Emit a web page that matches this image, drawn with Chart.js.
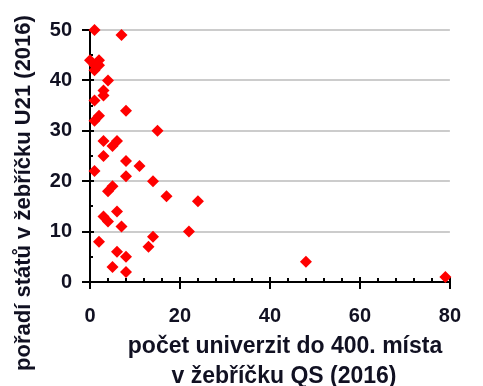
<!DOCTYPE html>
<html>
<head>
    <title>U21 vs QS</title>
    <script src="https://cdn.jsdelivr.net/npm/chart.js"></script>
</head>
<body style="margin:0; background-color:white;">
    <div style="width:483px; height:386px;">
        <canvas id="scatterChart" width="483" height="386"></canvas>
    </div>

    <script>
        // počet univerzit v top 400 QS (x) a pořadí v U21 (y)
        const qsCount = [1, 7, 0, 2, 1, 2, 1, 4, 3, 3, 1, 8, 2, 1, 15, 3, 6, 5, 3, 8, 11, 1, 8,
                         14, 5, 4, 17, 24, 6, 3, 4, 7, 22, 14, 13, 2, 6, 8, 48, 5, 8, 79];
        const u21Rank = [50, 49, 44, 44, 43, 43, 42, 40, 38, 37, 36, 34, 33, 32, 30, 28, 28, 27, 25, 24, 23, 22, 21,
                         20, 19, 18, 17, 16, 14, 13, 12, 11, 10, 9, 7, 8, 6, 5, 4, 3, 2, 1];
        const xTicks = [0, 20, 40, 60, 80];
        const yTicks = [0, 10, 20, 30, 40, 50];

        const FONT = "'Liberation Sans', Arial, sans-serif";
        const TEXT = '#111122';

        // tick marks (major crossing the axis, minor inward) + axis titles
        const axisDecor = {
            id: 'axisDecor',
            beforeDatasetsDraw(chart) {
                const ctx = chart.ctx;
                const xs = chart.scales.x, ys = chart.scales.y;
                const ax = chart.chartArea.left, ay = chart.chartArea.bottom;
                ctx.save();
                ctx.strokeStyle = '#000';
                ctx.lineWidth = 2;
                ctx.beginPath();
                for (let v = 0; v <= 80; v += 4) {
                    const px = Math.round(xs.getPixelForValue(v));
                    const major = v % 20 === 0;
                    ctx.moveTo(px, ay - (major ? 5 : 4));
                    ctx.lineTo(px, ay + (major ? 7 : 0));
                }
                for (let v = 0; v <= 50; v += 5) {
                    const py = Math.round(ys.getPixelForValue(v));
                    const major = v % 10 === 0;
                    ctx.moveTo(ax - (major ? 8 : 0), py);
                    ctx.lineTo(ax + (major ? 4 : 3), py);
                }
                ctx.stroke();
                ctx.restore();
            },
            afterDraw(chart) {
                const ctx = chart.ctx;
                ctx.save();
                ctx.fillStyle = TEXT;
                ctx.font = "bold 23px " + FONT;
                ctx.textAlign = 'center';
                ctx.textBaseline = 'middle';
                ctx.fillText('počet univerzit do 400. místa', 285, 347);
                ctx.fillText('v žebříčku QS (2016)', 284, 377);
                ctx.font = "bold 22px " + FONT;
                ctx.translate(24, 193);
                ctx.rotate(-Math.PI / 2);
                ctx.fillText('pořadí států v žebříčku U21 (2016)', 0, 0);
                ctx.restore();
            }
        };

        new Chart(document.getElementById('scatterChart'), {
            type: 'scatter',
            data: {
                datasets: [{
                    data: qsCount.map((x, i) => ({ x: x, y: u21Rank[i] })),
                    pointStyle: 'rectRot',
                    pointRadius: 6,
                    pointHoverRadius: 6,
                    backgroundColor: '#ff0000',
                    borderWidth: 0,
                    clip: false
                }]
            },
            options: {
                responsive: false,
                animation: false,
                layout: { padding: { top: 25, right: 12, left: 0, bottom: 0 } },
                plugins: { legend: { display: false }, tooltip: { enabled: false } },
                scales: {
                    x: {
                        type: 'linear',
                        min: 0, max: 80,
                        afterBuildTicks: s => { s.ticks = xTicks.map(v => ({ value: v })); },
                        afterFit: s => { s.height = 104; },
                        grid: { drawOnChartArea: false, drawTicks: false },
                        border: { display: true, color: '#000', width: 2 },
                        ticks: { color: TEXT, font: { family: FONT, size: 20, weight: 'bold' }, padding: 22, maxRotation: 0 }
                    },
                    y: {
                        type: 'linear',
                        min: 0, max: 50,
                        afterBuildTicks: s => { s.ticks = yTicks.map(v => ({ value: v })); },
                        afterFit: s => { s.width = 90; },
                        grid: {
                            drawTicks: false,
                            lineWidth: 2,
                            color: c => c.tick && c.tick.value === 0 ? 'rgba(0,0,0,0)' : '#cccccc'
                        },
                        border: { display: true, color: '#000', width: 2 },
                        ticks: { color: TEXT, font: { family: FONT, size: 20, weight: 'bold' }, padding: 18 }
                    }
                }
            },
            plugins: [axisDecor]
        });
    </script>
</body>
</html>
